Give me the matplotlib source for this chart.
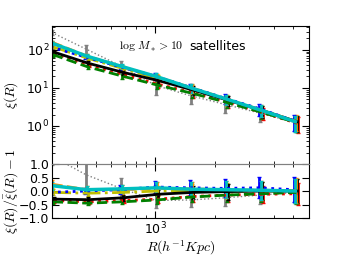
import numpy as np
import matplotlib
matplotlib.use("Agg")
import matplotlib.pyplot as plt
from matplotlib.ticker import LogLocator, NullFormatter, FuncFormatter

plt.rcParams["mathtext.fontset"] = "cm"

# --- data ---
R_bins = [300, 450, 675, 1012, 1519, 2278, 3417, 5126]
xi_mean = [125, 65, 34, 17.8, 9.3, 4.9, 2.55, 1.3]

# ratio xi/xi_mean - 1 for each sample
ratio_grey = [1.3, 0.6, 0.1, -0.35, -0.33, -0.25, -0.15, -0.05]
ratio_red = [-0.35, -0.4, -0.35, -0.3, -0.2, -0.15, -0.12, -0.1]
ratio_green = [-0.4, -0.45, -0.4, -0.33, -0.22, -0.15, -0.1, -0.05]
ratio_yellow = [-0.05, -0.08, -0.05, 0.0, 0.02, 0.0, 0.0, 0.0]
ratio_black = [-0.3, -0.32, -0.25, -0.12, -0.05, -0.02, 0.0, 0.0]
ratio_orange = [0.25, 0.05, 0.05, 0.1, 0.08, 0.05, 0.03, 0.02]
ratio_blue = [-0.05, 0.0, 0.05, 0.15, 0.12, 0.1, 0.12, 0.05]
ratio_cyan = [0.2, 0.05, 0.08, 0.12, 0.07, 0.05, 0.03, 0.0]

# fractional errors
err_main = [0.12, 0.12, 0.15, 0.2, 0.25, 0.3, 0.35, 0.45]
err_grey = [0.15, 0.3, 0.35, 0.45, 0.4, 0.4, 0.4, 0.4]

# (ratios, errors, colour, linestyle, linewidth, x shift)
series = [
    (ratio_grey, err_grey, "grey", ":", 1.0, 0.995),
    (ratio_red, err_main, "red", ":", 2.0, 1.025),
    (ratio_green, err_main, "green", "--", 2.0, 1.01),
    (ratio_yellow, err_main, "y", "-.", 2.0, 1.015),
    (ratio_black, err_main, "black", "-", 2.0, 1.02),
    (ratio_orange, err_main, "darkorange", "--", 2.0, 1.005),
    (ratio_blue, err_main, "blue", ":", 2.0, 0.985),
    (ratio_cyan, err_main, "c", "-", 2.5, 1.0),
]

fig = plt.figure(figsize=(3.44, 2.58), dpi=100)
ax1 = fig.add_axes([0.151, 0.364, 0.747, 0.535])
ax2 = fig.add_axes([0.151, 0.155, 0.747, 0.209], sharex=ax1)

R = np.array(R_bins)
xm = np.array(xi_mean)
for rat, err, col, ls, lw, shift in series:
    rat = np.array(rat)
    err = np.array(err)
    x = R * shift
    xi = xm * (1 + rat)
    ax1.errorbar(x, xi, yerr=xi * err, color=col, ls=ls, lw=lw,
                 elinewidth=2, capsize=1.5)
    ax2.errorbar(x, rat, yerr=(1 + rat) * err, color=col, ls=ls, lw=lw,
                 elinewidth=2, capsize=1.5)

ax2.axhline(1.0, color="grey", lw=1.5)

ax1.set_xscale("log")
ax1.set_yscale("log")
ax1.set_xlim(300, 6000)
ax1.set_ylim(0.1, 420)
ax2.set_ylim(-1.0, 1.0)


def pow10(v, pos):
    return r"$\mathdefault{10^{%d}}$" % round(np.log10(v))


for ax in (ax1, ax2):
    ax.tick_params(which="both", direction="in", top=True, right=True,
                   labelsize=9, pad=2)
    ax.tick_params(which="major", length=5)
    ax.tick_params(which="minor", length=2.5)
ax1.tick_params(labelbottom=False)
ax1.yaxis.set_minor_locator(LogLocator(base=10, subs=np.arange(2, 10), numticks=10))
ax1.yaxis.set_minor_formatter(NullFormatter())
ax1.set_yticks([1, 10, 100])
ax1.yaxis.set_major_formatter(FuncFormatter(pow10))
ax2.set_xticks([1000])
ax2.xaxis.set_major_formatter(FuncFormatter(pow10))
ax2.xaxis.set_minor_formatter(NullFormatter())
ax2.set_yticks([-1.0, -0.5, 0.0, 0.5, 1.0])
ax1.spines["bottom"].set_color("grey")
ax2.spines["top"].set_color("grey")

ax1.set_ylabel(r"$\xi(R)$", fontsize=10)
ax2.set_ylabel(r"$\xi(R)/\bar{\xi}(R)-1$", fontsize=10)
ax2.set_xlabel(r"$R(h^{-1}Kpc)$", fontsize=10, labelpad=1)
ax1.yaxis.set_label_coords(-0.125, 0.5)
ax2.yaxis.set_label_coords(-0.125, 0.5)

ax1.text(0.26, 0.85, r"$\log\,M_* > 10$", transform=ax1.transAxes,
         fontsize=8.5, va="center")
ax1.text(0.535, 0.85, "satellites", transform=ax1.transAxes,
         fontsize=9, va="center")

fig.savefig("out.png", dpi=100)
